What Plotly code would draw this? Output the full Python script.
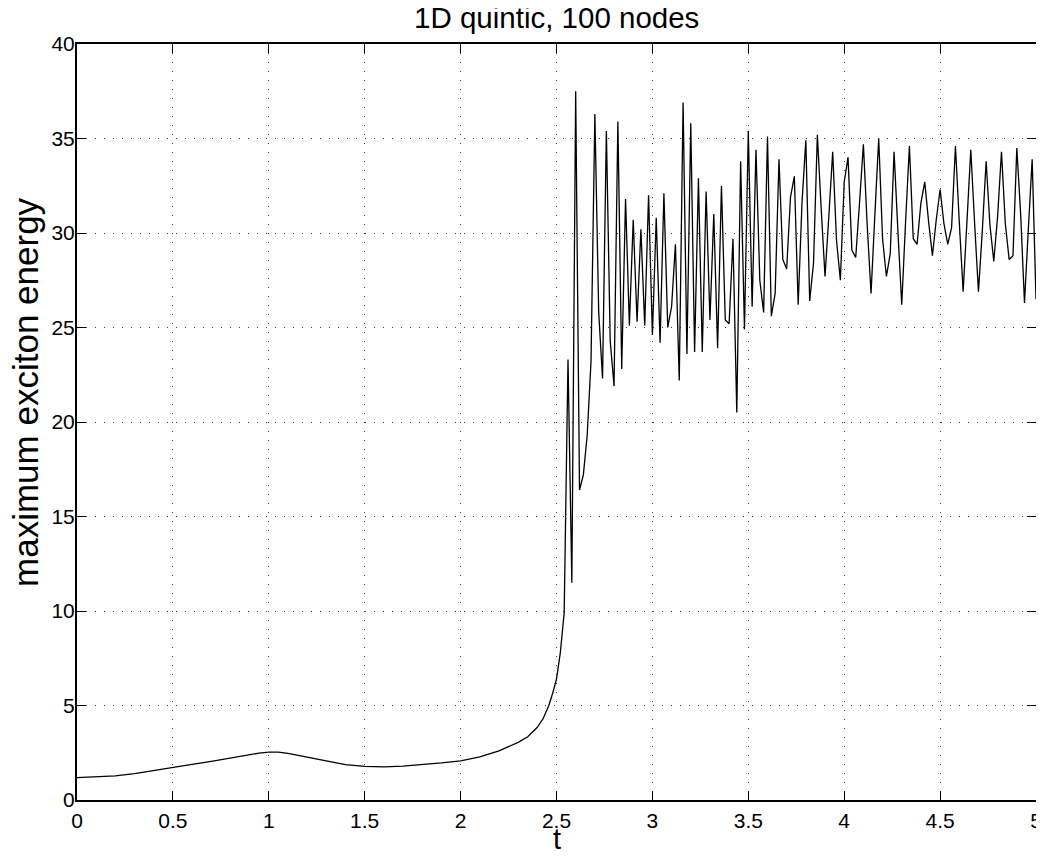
import plotly.graph_objects as go

# smooth growth phase (t, energy)
t_rise = [0.0, 0.1, 0.2, 0.3, 0.4, 0.5, 0.6, 0.7, 0.8, 0.9, 0.95, 1.0, 1.05, 1.1,
          1.2, 1.3, 1.4, 1.5, 1.6, 1.7, 1.8, 1.9, 2.0, 2.1, 2.2, 2.25, 2.3, 2.35,
          2.4, 2.43, 2.46, 2.48, 2.5, 2.52, 2.54]
e_rise = [1.18, 1.21, 1.28, 1.40, 1.55, 1.72, 1.88, 2.04, 2.22, 2.40, 2.48, 2.53, 2.53, 2.47,
          2.28, 2.07, 1.87, 1.78, 1.75, 1.79, 1.87, 1.96, 2.07, 2.28, 2.60, 2.83, 3.05, 3.35,
          3.85, 4.30, 5.00, 5.65, 6.40, 7.80, 9.90]

# oscillating phase, sampled every 0.02 starting at t = 2.56
osc_start = 2.56
osc_step = 0.02
e_osc = [23.3, 11.5, 37.5, 16.4, 17.2, 19.3, 23.2, 36.3, 25.8, 22.3,
         35.4, 24.3, 21.9, 35.9, 22.8, 31.8, 25.1, 30.7, 25.3, 30.2,
         25.1, 32.0, 24.6, 30.8, 24.2, 32.1, 25.0, 26.1, 29.4, 22.2,
         36.9, 23.6, 35.8, 23.7, 32.9, 23.7, 32.2, 25.4, 31.0, 23.9,
         32.5, 25.4, 25.2, 29.7, 20.5, 33.8, 24.9, 35.4, 26.1, 34.4,
         27.5, 25.8, 35.1, 25.6, 26.8, 33.9, 28.6, 28.1, 31.9, 33.0,
         26.2, 31.6, 34.9, 26.4, 28.4, 35.2, 31.3, 27.7, 30.9, 34.3,
         29.6, 27.5, 32.7, 34.0, 29.1, 28.7, 31.6, 34.7, 30.4, 26.8,
         31.0, 35.0, 29.7, 27.7, 28.9, 34.3, 30.1, 26.2, 30.6, 34.6,
         29.7, 29.4, 31.6, 32.7, 30.6, 28.8, 30.7, 32.3, 30.5, 29.4,
         30.3, 34.6, 30.6, 26.9, 30.6, 34.4, 30.5, 26.9, 30.1, 33.8,
         30.4, 28.5, 30.9, 34.3, 30.5, 28.6, 28.8, 34.5, 31.0, 26.3,
         30.2, 33.9, 26.5]
t_osc = [round(osc_start + osc_step * i, 2) for i in range(len(e_osc))]

t_all = t_rise + t_osc
e_all = e_rise + e_osc

x_ticks = [0, 0.5, 1, 1.5, 2, 2.5, 3, 3.5, 4, 4.5, 5]
x_tick_text = ["0", "0.5", "1", "1.5", "2", "2.5", "3", "3.5", "4", "4.5", "5"]
y_ticks = [0, 5, 10, 15, 20, 25, 30, 35, 40]

FONT = "Liberation Sans, Arial, Helvetica, sans-serif"

fig = go.Figure()
fig.add_trace(go.Scatter(x=t_all, y=e_all, mode="lines",
                         line=dict(color="black", width=1.3),
                         showlegend=False, hoverinfo="x+y"))

axis_common = dict(
    showline=True, linecolor="black", linewidth=2, mirror="ticks",
    ticks="inside", ticklen=9, tickwidth=1, tickcolor="black",
    showgrid=True, gridcolor="rgba(0,0,0,0.75)", gridwidth=1, griddash="1px,8px",
    zeroline=False, automargin=False,
    tickfont=dict(family=FONT, size=21, color="black"),
)

fig.update_xaxes(range=[0, 5], tickvals=x_ticks, ticktext=x_tick_text,
                 ticklabelstandoff=1, ticklabeloverflow="allow", **axis_common)
fig.update_yaxes(range=[0, 40], tickvals=y_ticks, ticklabelstandoff=-4, **axis_common)

# the page body adds an 8px offset, so the figure is shrunk and margins shifted
fig.update_layout(
    width=1036, height=847,
    margin=dict(l=69, r=8, t=36, b=55),
    paper_bgcolor="white", plot_bgcolor="white",
    font=dict(family=FONT, color="black"),
    annotations=[
        dict(text="1D quintic, 100 nodes", xref="paper", yref="paper",
             x=0.5, y=1.0357, xanchor="center", yanchor="middle",
             showarrow=False, font=dict(family=FONT, size=29.5, color="black")),
        dict(text="t", xref="paper", yref="paper",
             x=0.5, y=-0.051, xanchor="center", yanchor="middle",
             showarrow=False, font=dict(family=FONT, size=29, color="black")),
        dict(text="maximum exciton energy", xref="paper", yref="paper",
             x=-0.053, y=0.54, xanchor="center", yanchor="middle", textangle=-90,
             showarrow=False, font=dict(family=FONT, size=35, color="black")),
    ],
)

fig.write_html("out.html")
